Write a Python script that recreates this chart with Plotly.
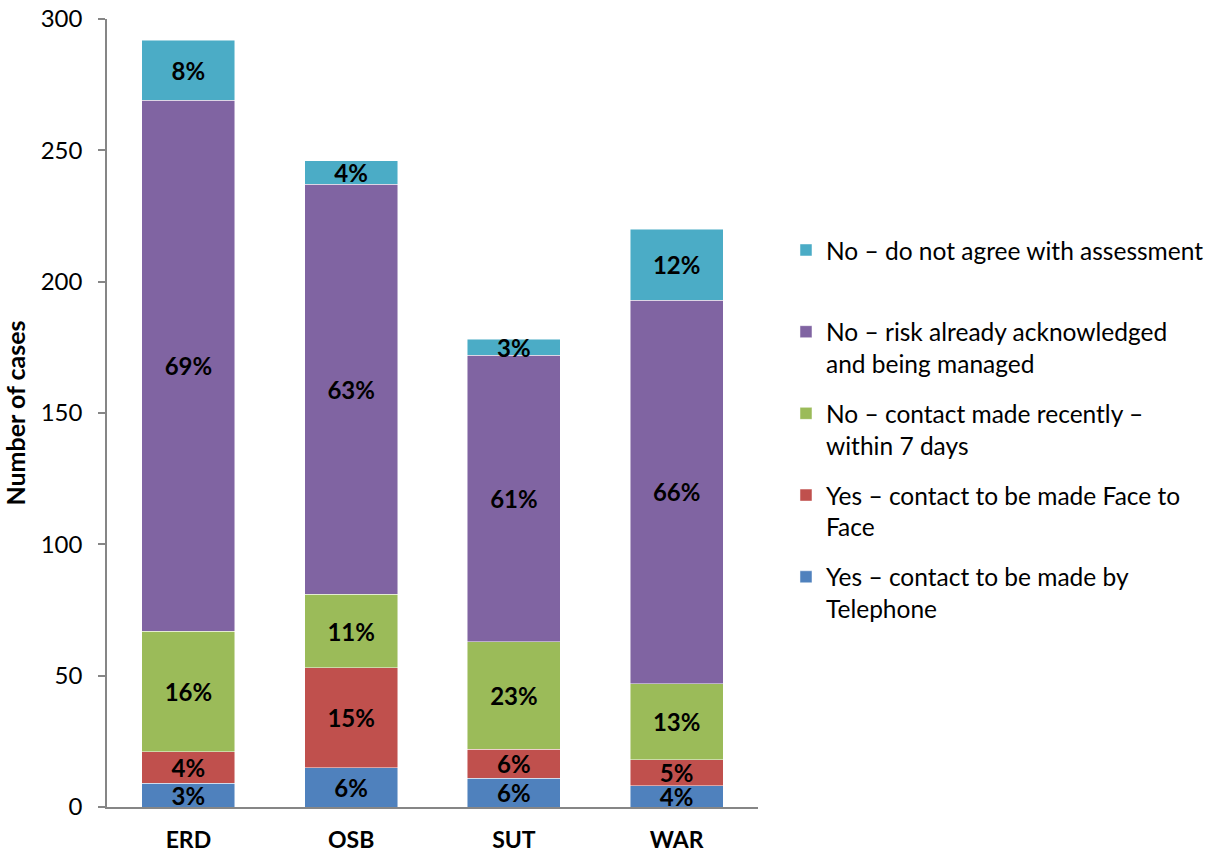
import plotly.graph_objects as go

categories = ["ERD", "OSB", "SUT", "WAR"]
series_names = [
    "Yes – contact to be made by<br>Telephone",
    "Yes – contact to be made Face to<br>Face",
    "No – contact made recently –<br>within 7 days",
    "No – risk already acknowledged<br>and being managed",
    "No – do not agree with assessment<br>&nbsp;",
]
telephone = [9, 15, 11, 8]
face_to_face = [12, 38, 11, 10]
recent_contact = [46, 28, 41, 29]
already_managed = [202, 156, 109, 146]
disagree = [23, 9, 6, 27]

series_values = [telephone, face_to_face, recent_contact, already_managed, disagree]
colors = ["#4F81BD", "#C0504D", "#9BBB59", "#8064A2", "#4BACC6"]

totals = [sum(v) for v in zip(*series_values)]

FONT = "Lato"

fig = go.Figure()
n = len(series_names)
for i, (name, vals, col) in enumerate(zip(series_names, series_values, colors)):
    labels = [f"{int(v / t * 100 + 0.5)}%" for v, t in zip(vals, totals)]
    fig.add_trace(go.Bar(
        x=categories, y=vals, name=name,
        legendgroup=f"g{n - i}", legendrank=10 * (n - i),
        marker=dict(color=col, line=dict(width=0.8, color="rgba(255,255,255,0.6)")),
        text=labels, textposition="inside", insidetextanchor="middle",
        constraintext="none",
        textfont=dict(family=FONT, size=24, color="black", weight="bold"),
        hoverinfo="x+y+name",
    ))

fig.update_layout(
    barmode="stack",
    bargap=0.43,
    width=1217, height=855,
    margin=dict(l=107, r=459, t=19, b=48, autoexpand=False),
    paper_bgcolor="white", plot_bgcolor="white",
    font=dict(family=FONT, size=24, color="black"),
    showlegend=True,
    legend=dict(
        traceorder="grouped",
        x=1.043, xanchor="left", y=0.479, yanchor="middle",
        font=dict(family=FONT, size=24.5, color="black"),
        itemwidth=30,
        tracegroupgap=15,
        valign="top",
    ),
    xaxis=dict(
        automargin=False,
        showline=True, linecolor="#868686", linewidth=1.5,
        ticks="", showgrid=False,
        tickfont=dict(family=FONT, size=23, color="black", weight="bold"),
        ticklabelstandoff=12,
    ),
    yaxis=dict(
        automargin=False,
        range=[0, 300], dtick=50,
        showline=True, linecolor="#868686", linewidth=1.5,
        ticks="outside", ticklen=7, tickcolor="#868686", tickwidth=1.5,
        ticklabelstandoff=11,
        showgrid=False, zeroline=False,
        tickfont=dict(family=FONT, size=24, color="black"),
        title=dict(text="Number of cases", font=dict(family=FONT, size=25, color="black", weight="bold"), standoff=10),
    ),
)

fig.write_html("out.html", config={"displayModeBar": False},
               post_script="document.body.style.margin='0';")
